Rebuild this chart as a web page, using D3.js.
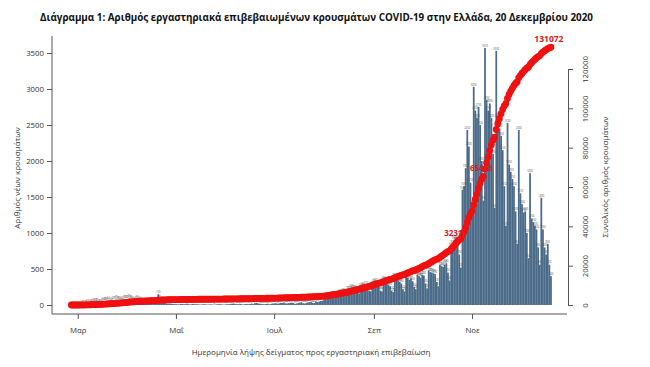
<!DOCTYPE html>
<html><head><meta charset="utf-8">
<script src="https://cdn.jsdelivr.net/npm/d3@7"></script>
<style>
body{margin:0;background:#fff;}
svg{display:block;font-family:'Open Sans','Noto Sans',sans-serif;}
</style>
</head><body>
<svg id="chart" width="650" height="367"></svg>
<script>
// ---- data ----
const startDate = new Date(2020, 1, 26); // first day shown: 26 Feb 2020

// daily new cases (bars, left axis)
const casesFeb = [1, 2, 1, 3];
const casesMar = [2, 3, 5, 8, 12, 18, 22, 15, 25, 30, 35, 38, 40, 28, 30, 45, 50, 48, 55, 62, 52, 40, 65, 70, 75, 68, 65, 50, 60, 75, 82];
const casesApr = [85, 95, 80, 65, 55, 70, 75, 60, 50, 55, 45, 30, 35, 40, 35, 30, 28, 40, 26, 150, 85, 55, 35, 30, 22, 18, 22, 18, 15, 12];
const casesMay = [12, 10, 8, 15, 14, 10, 12, 18, 9, 8, 12, 15, 10, 11, 9, 7, 6, 12, 10, 8, 5, 9, 7, 6, 4, 8, 10, 12, 9, 7, 5];
const casesJun = [8, 12, 10, 15, 18, 20, 14, 10, 12, 16, 9, 8, 12, 15, 10, 14, 20, 11, 25, 30, 22, 18, 16, 12, 10, 14, 18, 9, 15, 20];
const casesJul = [20, 25, 18, 22, 30, 28, 35, 24, 20, 26, 30, 32, 28, 15, 22, 30, 34, 38, 24, 20, 30, 35, 40, 45, 30, 28, 50, 42, 48, 55, 60];
const casesAug = [80, 95, 110, 90, 120, 130, 140, 125, 110, 150, 160, 170, 180, 155, 130, 200, 210, 230, 220, 215, 200, 170, 160, 250, 260, 240, 270, 230, 200, 190, 280];
const casesSep = [300, 320, 280, 250, 200, 190, 350, 330, 310, 280, 260, 200, 180, 380, 360, 340, 320, 300, 220, 190, 400, 380, 350, 370, 330, 250, 220, 420, 400, 380];
const casesOct = [420, 410, 300, 230, 480, 460, 450, 440, 430, 320, 260, 560, 540, 530, 560, 580, 450, 340, 800, 850, 900, 880, 920, 700, 520, 1600, 1650, 1900, 2430, 2200, 1700];
const casesNov = [1400, 3030, 2700, 2600, 2750, 2500, 2000, 1450, 3570, 2850, 2700, 2800, 2600, 2100, 1350, 3530, 2600, 2450, 2350, 2150, 1650, 1100, 2530, 1950, 1850, 1750, 1650, 1300, 850, 2430];
const casesDec = [1550, 1400, 1286, 1300, 1000, 650, 1830, 1200, 1150, 1100, 1050, 800, 560, 1490, 1050, 800, 700, 850, 560, 400];

// cumulative total cases (red dots, right axis)
const totalsFeb = [1, 3, 4, 7];
const totalsMar = [9, 12, 17, 25, 37, 55, 77, 92, 117, 147, 182, 220, 260, 288, 318, 363, 413, 461, 516, 578, 630, 670, 735, 805, 880, 948, 1013, 1063, 1123, 1198, 1280];
const totalsApr = [1365, 1460, 1540, 1605, 1660, 1730, 1805, 1865, 1915, 1970, 2015, 2045, 2080, 2120, 2155, 2185, 2213, 2253, 2279, 2429, 2514, 2569, 2604, 2634, 2656, 2674, 2696, 2714, 2729, 2741];
const totalsMay = [2753, 2763, 2771, 2786, 2800, 2810, 2822, 2840, 2849, 2857, 2869, 2884, 2894, 2905, 2914, 2921, 2927, 2939, 2949, 2957, 2962, 2971, 2978, 2984, 2988, 2996, 3006, 3018, 3027, 3034, 3039];
const totalsJun = [3047, 3059, 3069, 3084, 3102, 3122, 3136, 3146, 3158, 3174, 3183, 3191, 3203, 3218, 3228, 3242, 3262, 3273, 3298, 3328, 3350, 3368, 3384, 3396, 3406, 3420, 3438, 3447, 3462, 3482];
const totalsJul = [3502, 3527, 3545, 3567, 3597, 3625, 3660, 3684, 3704, 3730, 3760, 3792, 3820, 3835, 3857, 3887, 3921, 3959, 3983, 4003, 4033, 4068, 4108, 4153, 4183, 4211, 4261, 4303, 4351, 4406, 4466];
const totalsAug = [4546, 4641, 4751, 4841, 4961, 5091, 5231, 5356, 5466, 5616, 5776, 5946, 6126, 6281, 6411, 6611, 6821, 7051, 7271, 7486, 7686, 7856, 8016, 8266, 8526, 8766, 9036, 9266, 9466, 9656, 9936];
const totalsSep = [10236, 10556, 10836, 11086, 11286, 11476, 11826, 12156, 12466, 12746, 13006, 13206, 13386, 13766, 14126, 14466, 14786, 15086, 15306, 15496, 15896, 16276, 16626, 16996, 17326, 17576, 17796, 18216, 18616, 18996];
const totalsOct = [19456, 19906, 20236, 20486, 21016, 21521, 22016, 22501, 22976, 23326, 23611, 24226, 24821, 25406, 26021, 26661, 27156, 27531, 28411, 29346, 30336, 31306, 32316, 33086, 33656, 35416, 37231, 39321, 41991, 44411, 46281];
const totalsNov = [47737, 50888, 53696, 56400, 59260, 61860, 63940, 65448, 69161, 72353, 75377, 78513, 81425, 83777, 85289, 89243, 92155, 94728, 97196, 99454, 101187, 102342, 104999, 107047, 108638, 110143, 111562, 112680, 113411, 115501];
const totalsDec = [116666, 117718, 118684, 119661, 120412, 120900, 122275, 123177, 124041, 124867, 125656, 126257, 126678, 127797, 128586, 129187, 129713, 130352, 130773, 131072];

const monthTickDates = [new Date(2020,2,1), new Date(2020,4,1), new Date(2020,6,1), new Date(2020,8,1), new Date(2020,10,1)];
const monthTickLabels = ["Μαρ", "Μαΐ", "Ιουλ", "Σεπ", "Νοε"];
const leftTicks = [0, 500, 1000, 1500, 2000, 2500, 3000, 3500];
const rightTicks = [0, 20000, 40000, 60000, 80000, 100000, 120000];
const markedDates = [new Date(2020,9,23), new Date(2020,10,8)];

const titleText = "Διάγραμμα 1: Αριθμός εργαστηριακά επιβεβαιωμένων κρουσμάτων COVID-19 στην Ελλάδα, 20 Δεκεμβρίου 2020";
const leftTitle = "Αριθμός νέων κρουσμάτων";
const rightTitle = "Συνολικός αριθμός κρουσμάτων";
const xTitle = "Ημερομηνία λήψης δείγματος προς εργαστηριακή επιβεβαίωση";

// ---- build ----
const daily = [].concat(casesFeb, casesMar, casesApr, casesMay, casesJun, casesJul, casesAug, casesSep, casesOct, casesNov, casesDec);
const totals = [].concat(totalsFeb, totalsMar, totalsApr, totalsMay, totalsJun, totalsJul, totalsAug, totalsSep, totalsOct, totalsNov, totalsDec);
const rows = daily.map((v, i) => ({date: d3.timeDay.offset(startDate, i), value: v, total: totals[i]}));

const svg = d3.select("#chart");
const x = d3.scaleTime().domain([new Date(2020,1,14), new Date(2020,11,30)]).range([52, 567]);
const yL = d3.scaleLinear().domain([0, 3500]).range([305, 53]);
const yR = d3.scaleLinear().domain([0, 120000]).range([305, 69]);
const dayW = x(new Date(2020,5,2)) - x(new Date(2020,5,1));
const fmt = d3.format("d");

const barColor = "#4a6b89";
const red = "#f01010";

// title
svg.append("text").attr("x", 40).attr("y", 21)
  .attr("font-size", 10).attr("font-weight", "bold").attr("fill", "#111")
  .attr("textLength", 553).attr("lengthAdjust", "spacingAndGlyphs")
  .text(titleText);

// bars
svg.append("g").selectAll("rect").data(rows).join("rect")
  .attr("x", d => x(d.date) - dayW/2)
  .attr("width", dayW + 0.15)
  .attr("y", d => yL(d.value))
  .attr("height", d => yL(0) - yL(d.value))
  .attr("fill", barColor);

// tiny value labels above bars
svg.append("g").selectAll("text").data(rows).join("text")
  .attr("x", d => x(d.date))
  .attr("y", d => yL(d.value) - 1.2)
  .attr("text-anchor", "middle")
  .attr("font-size", 2.6)
  .attr("fill", "#555")
  .text(d => d.value);

// cumulative dots
svg.append("g").selectAll("circle").data(rows).join("circle")
  .attr("cx", d => x(d.date))
  .attr("cy", d => yR(d.total))
  .attr("r", 3.4)
  .attr("fill", red);

// marked cumulative labels
const marked = rows.filter(r => markedDates.some(m => +m === +r.date));
svg.append("g").selectAll("text").data(marked).join("text")
  .attr("x", d => x(d.date) - 2)
  .attr("y", d => yR(d.total) - 5)
  .attr("text-anchor", "middle")
  .attr("font-size", 8).attr("font-weight", "bold")
  .attr("fill", "#d42020")
  .text(d => d.total);

const last = rows[rows.length - 1];
svg.append("text")
  .attr("x", x(last.date) - 2)
  .attr("y", yR(last.total) - 5)
  .attr("text-anchor", "middle")
  .attr("font-size", 8.5).attr("font-weight", "bold")
  .attr("fill", "#d42020")
  .text(last.total);

// frame lines (L shape)
svg.append("line").attr("x1", 52).attr("x2", 52).attr("y1", 36).attr("y2", 314)
  .attr("stroke", "#555").attr("stroke-width", 1);
svg.append("line").attr("x1", 52).attr("x2", 567).attr("y1", 314).attr("y2", 314)
  .attr("stroke", "#555").attr("stroke-width", 1);

// left axis
const gL = svg.append("g").attr("transform", "translate(52,0)")
  .call(d3.axisLeft(yL).tickValues(leftTicks).tickFormat(fmt).tickSize(5).tickPadding(3));
gL.select(".domain").remove();
gL.selectAll("line").attr("stroke", "#555");
gL.selectAll("text").attr("font-size", 7.8).attr("fill", "#333").attr("font-family", "'Open Sans',sans-serif");

// bottom axis
const gB = svg.append("g").attr("transform", "translate(0,314)")
  .call(d3.axisBottom(x).tickValues(monthTickDates).tickFormat((d, i) => monthTickLabels[i]).tickSize(5).tickPadding(8));
gB.select(".domain").remove();
gB.selectAll("line").attr("stroke", "#555");
gB.selectAll("text").attr("font-size", 7.8).attr("fill", "#333").attr("font-family", "'Open Sans',sans-serif");

// right axis
const gR = svg.append("g").attr("transform", "translate(568,0)")
  .call(d3.axisRight(yR).tickValues(rightTicks).tickFormat(fmt).tickSize(5).tickSizeOuter(0));
gR.select(".domain").attr("stroke", "#555");
gR.selectAll("line").attr("stroke", "#555");
gR.selectAll("text")
  .attr("x", 0).attr("dy", 0)
  .attr("transform", "translate(20,0) rotate(-90)")
  .attr("text-anchor", "middle")
  .attr("font-size", 7.8).attr("fill", "#333").attr("font-family", "'Open Sans',sans-serif");

// axis titles
svg.append("text").attr("transform", "translate(20,178) rotate(-90)")
  .attr("text-anchor", "middle").attr("font-size", 8).attr("fill", "#333")
  .text(leftTitle);
svg.append("text").attr("transform", "translate(608,177) rotate(-90)")
  .attr("text-anchor", "middle").attr("font-size", 8).attr("fill", "#333")
  .text(rightTitle);
svg.append("text").attr("x", 311).attr("y", 355)
  .attr("text-anchor", "middle").attr("font-size", 8).attr("fill", "#333")
  .text(xTitle);
</script>
</body></html>
